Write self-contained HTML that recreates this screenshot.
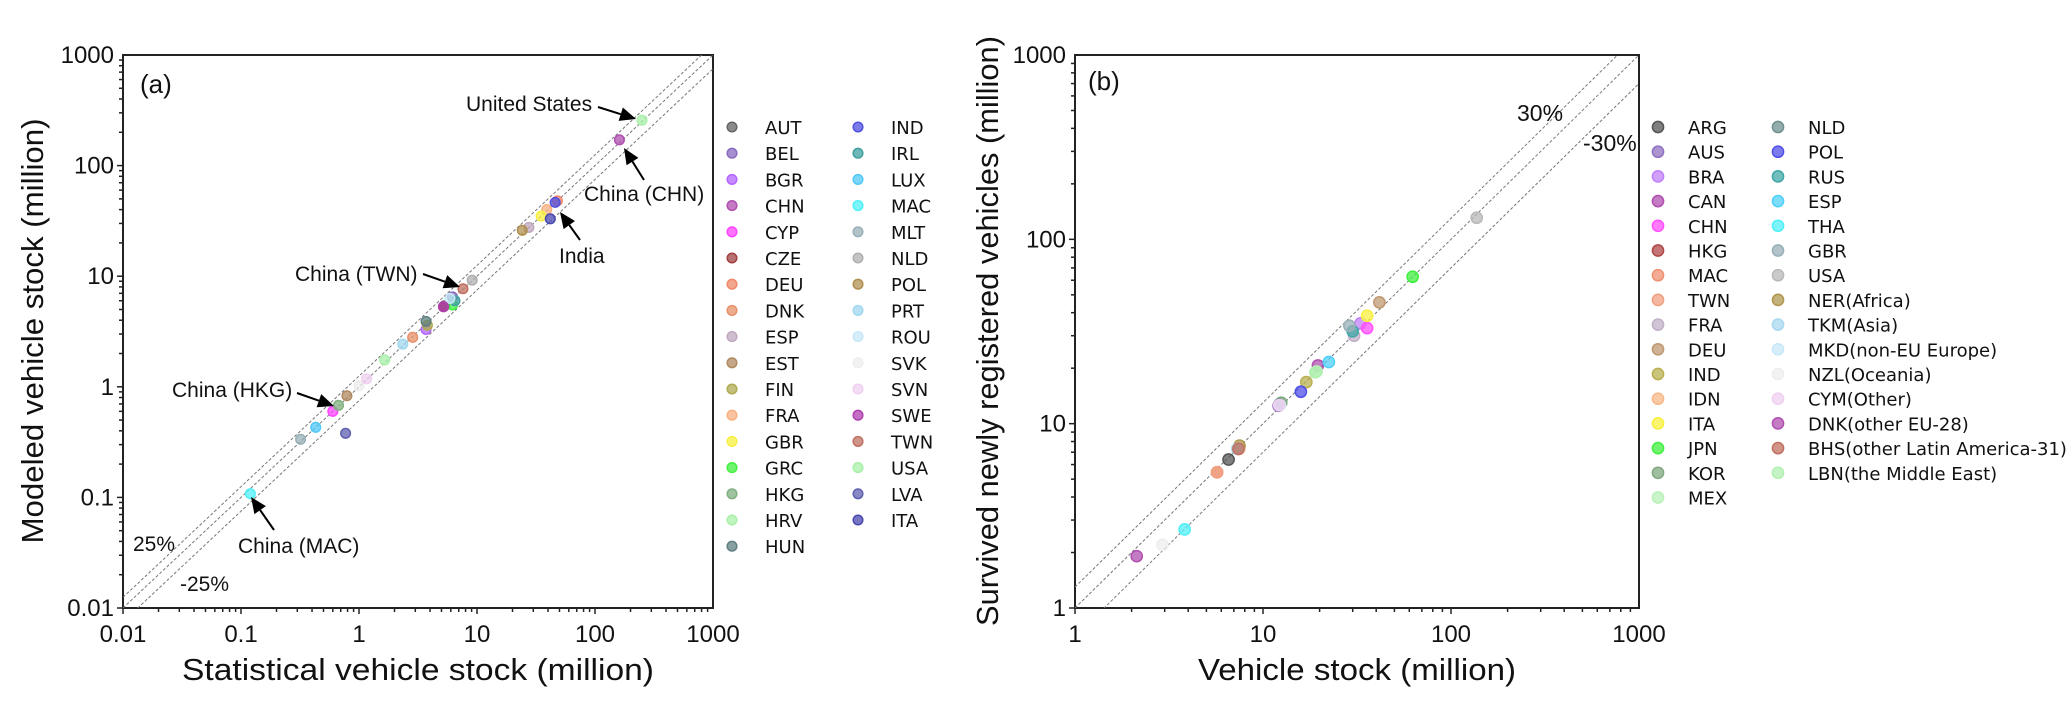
<!DOCTYPE html>
<html><head><meta charset="utf-8"><style>
html,body{margin:0;padding:0;background:#fff;}
svg{display:block;font-family:"Liberation Sans",sans-serif;}
.leg{font-family:"DejaVu Sans","Liberation Sans",sans-serif;font-size:18px;fill:#111;}
</style></head><body>
<svg id="fig" width="2067" height="706" viewBox="0 0 2067 706" xmlns="http://www.w3.org/2000/svg">
<defs>
<clipPath id="clipA"><rect x="123" y="55" width="590" height="553"/></clipPath>
<clipPath id="clipB"><rect x="1075" y="55" width="564" height="553"/></clipPath>
</defs>
<g id="plotA"></g>
<g id="plotB"></g>
</svg>
<script>
// ---------- Panel (a) data ----------
const countriesA = ["AUT","BEL","BGR","CHN","CYP","CZE","DEU","DNK","ESP","EST","FIN","FRA","GBR","GRC","HKG","HRV","HUN","IND","IRL","LUX","MAC","MLT","NLD","POL","PRT","ROU","SVK","SVN","SWE","TWN","USA","LVA","ITA"];
const statA  = [5.3,6.2,3.7,161,0.6,5.2,48,2.85,27.5,0.79,3.8,39,35,6.2,0.67,1.65,3.7,46,6.5,0.43,0.12,0.32,9.1,24.2,2.35,5.9,1.0,1.16,5.2,7.6,250,0.77,41.8];
const modelA = [5.4,6.5,3.3,171,0.6,5.3,48,2.8,27.6,0.83,3.6,40,35,5.5,0.68,1.75,3.9,46.5,6.0,0.43,0.108,0.335,9.2,26,2.43,6.3,1.02,1.18,5.3,7.7,257,0.38,33];
const colorsA = ["#666666","#8a6bbf","#b366ff","#b04fb0","#ff44ff","#a04040","#f08a6a","#e8906a","#c0a8c0","#b08a60","#b0aa50","#f8b080","#f8f040","#40f040","#80b080","#a8f0a8","#608080","#5050e0","#40a0a0","#50c8f8","#50f0f8","#98b0b8","#b0b0b0","#b09050","#a0d8f0","#c8e8f8","#eeeeee","#f0d0f0","#b040b0","#c07060","#a8f0a8","#6060b0","#4848b0"];
const ticksA = ["0.01","0.1","1","10","100","1000"];
const tickValsA = [0.01,0.1,1,10,100,1000];

// ---------- Panel (b) data ----------
const countriesB = ["ARG","AUS","BRA","CAN","CHN","HKG","MAC","TWN","FRA","DEU","IND","IDN","ITA","JPN","KOR","MEX","NLD","POL","RUS","ESP","THA","GBR","USA","NER(Africa)","TKM(Asia)","MKD(non-EU Europe)","NZL(Oceania)","CYM(Other)","DNK(other EU-28)","BHS(other Latin America-31)","LBN(the Middle East)"];
const stockB = [6.56,12.1,33,19.6,35.8,7.4,5.7,5.7,30.5,41.6,17,7.47,35.8,62.5,12.5,19.3,12.2,15.9,30,22.4,3.83,28.8,137,7.5,7.3,12.3,2.92,12.2,2.13,7.4,19.0];
const survB  = [6.39,12.5,35,20.7,33,7.3,5.45,5.45,30,45.5,16.8,7.3,38.5,62.7,13.0,19.2,12.7,14.9,31.7,21.6,2.67,34,131,7.6,7.3,12.6,2.2,12.6,1.91,7.3,19.0];
const colorsB = ["#555555","#9070c0","#c080f8","#b050b0","#ff50ff","#b04848","#f09070","#f0a080","#c0b0c8","#c09870","#b8b050","#f8b888","#f8f040","#40f040","#80a880","#b8f0b8","#709090","#5050e8","#40a8a8","#50d0f8","#50f0f8","#98b0b8","#b8b8b8","#b09850","#a8d8f0","#c8e8f8","#eeeeee","#f0d0f0","#b050b0","#c07060","#b0f0b0"];
const ticksB = ["1","10","100","1000"];
const tickValsB = [1,10,100,1000];

const NS = "http://www.w3.org/2000/svg";
function mk(tag, attrs, parent){const e=document.createElementNS(NS,tag);for(const k in attrs)e.setAttribute(k,attrs[k]);parent.appendChild(e);return e;}

function logScale(d0,d1,r0,r1){return v=>r0+(Math.log10(v)-Math.log10(d0))/(Math.log10(d1)-Math.log10(d0))*(r1-r0);}

function drawPanel(cfg){
  const g=document.getElementById(cfg.id);
  const X=logScale(cfg.xmin,cfg.xmax,cfg.left,cfg.right);
  const Y=logScale(cfg.ymin,cfg.ymax,cfg.bottom,cfg.top);
  const fr=mk("rect",{x:cfg.left,y:cfg.top,width:cfg.right-cfg.left,height:cfg.bottom-cfg.top,fill:"none",stroke:"#222","stroke-width":2},g);
  
  
  for(let d=Math.log10(cfg.xmin);d<Math.log10(cfg.xmax);d++){
    for(let m=1;m<10;m++){
      const v=Math.pow(10,d)*m;const x=X(v);
      const t=mk("line",{x1:x,x2:x,y1:cfg.bottom,y2:cfg.bottom+(m===1?6:4),stroke:"#222","stroke-width":1.5},g);
      
      
    }
  }
  for(let d=Math.log10(cfg.ymin);d<Math.log10(cfg.ymax);d++){
    for(let m=1;m<10;m++){
      const v=Math.pow(10,d)*m;const y=Y(v);
      const t=mk("line",{x1:cfg.left-(m===1?6:4),x2:cfg.left,y1:y,y2:y,stroke:"#222","stroke-width":1.5},g);
      
      
    }
  }
  cfg.tickVals.forEach((v,i)=>{
    const tx=mk("text",{x:X(v),y:cfg.bottom+34,"text-anchor":"middle","font-size":24,fill:"#111"},g);
    tx.textContent=cfg.ticks[i];
    
    
    const ty=mk("text",{x:cfg.left-9,y:Y(v)+8,"text-anchor":"end","font-size":24,fill:"#111"},g);
    ty.textContent=cfg.ticks[i];
    
    
  });
  const cg=mk("g",{"clip-path":"url(#"+cfg.clip+")"},g);
  cfg.factors.forEach(f=>{
    const l=mk("line",{x1:X(cfg.xmin),y1:Y(cfg.xmin*f),x2:X(cfg.xmax),y2:Y(cfg.xmax*f),stroke:"#777","stroke-width":1,"stroke-dasharray":"3,2"},cg);
    
    
  });
  cfg.xs.forEach((xv,i)=>{
    const c=mk("circle",{cx:X(xv),cy:Y(cfg.ys[i]),r:cfg.r,fill:cfg.colors[i],"fill-opacity":0.75,stroke:cfg.colors[i],"stroke-width":1.5},cg);
    
    
  });
  cfg.names.forEach((n,i)=>{
    const col=i<cfg.legRows?0:1;const row=col?i-cfg.legRows:i;
    const y=cfg.legY+row*cfg.legDy;
    const mx=cfg.legX[col];
    const c=mk("circle",{cx:mx,cy:y,r:cfg.lr,fill:cfg.colors[i],"fill-opacity":0.75,stroke:cfg.colors[i],"stroke-width":1.5},g);
    
    
    const t=mk("text",{x:mx+cfg.legTx,y:y+7,class:"leg"},g);
    t.textContent=n;
    
    
  });
  return {X,Y,g};
}

const A=drawPanel({id:"plotA",clip:"clipA",left:123,right:713,top:55,bottom:608,xmin:0.01,xmax:1000,ymin:0.01,ymax:1000,
  ticks:ticksA,tickVals:tickValsA,factors:[1.25,1,0.75],xs:statA,ys:modelA,colors:colorsA,names:countriesA,r:4.8,
  legRows:17,legY:127,legDy:26.2,legX:[732,858],legTx:33,lr:4.8});
const B=drawPanel({id:"plotB",clip:"clipB",left:1075,right:1639,top:55,bottom:608,xmin:1,xmax:1000,ymin:1,ymax:1000,
  ticks:ticksB,tickVals:tickValsB,factors:[1.3,1,0.7],xs:stockB,ys:survB,colors:colorsB,names:countriesB,r:5.6,
  legRows:16,legY:127,legDy:24.7,legX:[1658,1778],legTx:30,lr:5.6});

function txt(g,x,y,s,size,name,extra){
  const t=mk("text",Object.assign({x:x,y:y,"font-size":size,fill:"#111"},extra||{}),g);
  t.textContent=s;
  
  
  return t;
}
function arrow(g,x1,y1,x2,y2,name){
  const dx=x2-x1,dy=y2-y1,L=Math.hypot(dx,dy),ux=dx/L,uy=dy/L;
  const hl=16,hw=7;
  const bx=x2-ux*hl,by=y2-uy*hl;
  const l=mk("line",{x1:x1,y1:y1,x2:bx,y2:by,stroke:"#000","stroke-width":2},g);
  
  
  const p=mk("polygon",{points:`${x2},${y2} ${bx-uy*hw},${by+ux*hw} ${bx+uy*hw},${by-ux*hw}`,fill:"#000"},g);
  
  
}
const ga=A.g, gb=B.g;
txt(ga,140,93,"(a)",26,"panel-label-a");
txt(ga,466,111,"United States",21,"annotation-united-states");
arrow(ga,598,107,636,119,"arrow-united-states");
txt(ga,584,201,"China (CHN)",21,"annotation-china-chn");
arrow(ga,644,180,624,148,"arrow-china-chn");
txt(ga,559,263,"India",21,"annotation-india");
arrow(ga,580,240,560,212,"arrow-india");
txt(ga,295,281,"China (TWN)",21,"annotation-china-twn");
arrow(ga,423,274,460,287,"arrow-china-twn");
txt(ga,172,397,"China (HKG)",21,"annotation-china-hkg");
arrow(ga,297,393,334,406,"arrow-china-hkg");
txt(ga,238,553,"China (MAC)",21,"annotation-china-mac");
arrow(ga,274,530,251,497,"arrow-china-mac");
txt(ga,133,551,"25%",21,"label-plus-25");
txt(ga,180,591,"-25%",21,"label-minus-25");
txt(ga,418,680,"Statistical vehicle stock (million)",31,"x-axis-title-a",{"text-anchor":"middle",textLength:472,lengthAdjust:"spacingAndGlyphs"});
txt(ga,0,0,"Modeled vehicle stock (million)",31,"y-axis-title-a",{"text-anchor":"middle",transform:"translate(43,331) rotate(-90)",textLength:425,lengthAdjust:"spacingAndGlyphs"});

txt(gb,1088,90,"(b)",26,"panel-label-b");
txt(gb,1517,121,"30%",23,"label-plus-30");
txt(gb,1583,151,"-30%",23,"label-minus-30");
txt(gb,1357,680,"Vehicle stock (million)",31,"x-axis-title-b",{"text-anchor":"middle",textLength:318,lengthAdjust:"spacingAndGlyphs"});
txt(gb,0,0,"Survived newly registered vehicles (million)",31,"y-axis-title-b",{"text-anchor":"middle",transform:"translate(998,331) rotate(-90)",textLength:590,lengthAdjust:"spacingAndGlyphs"});
</script>
</body></html>
